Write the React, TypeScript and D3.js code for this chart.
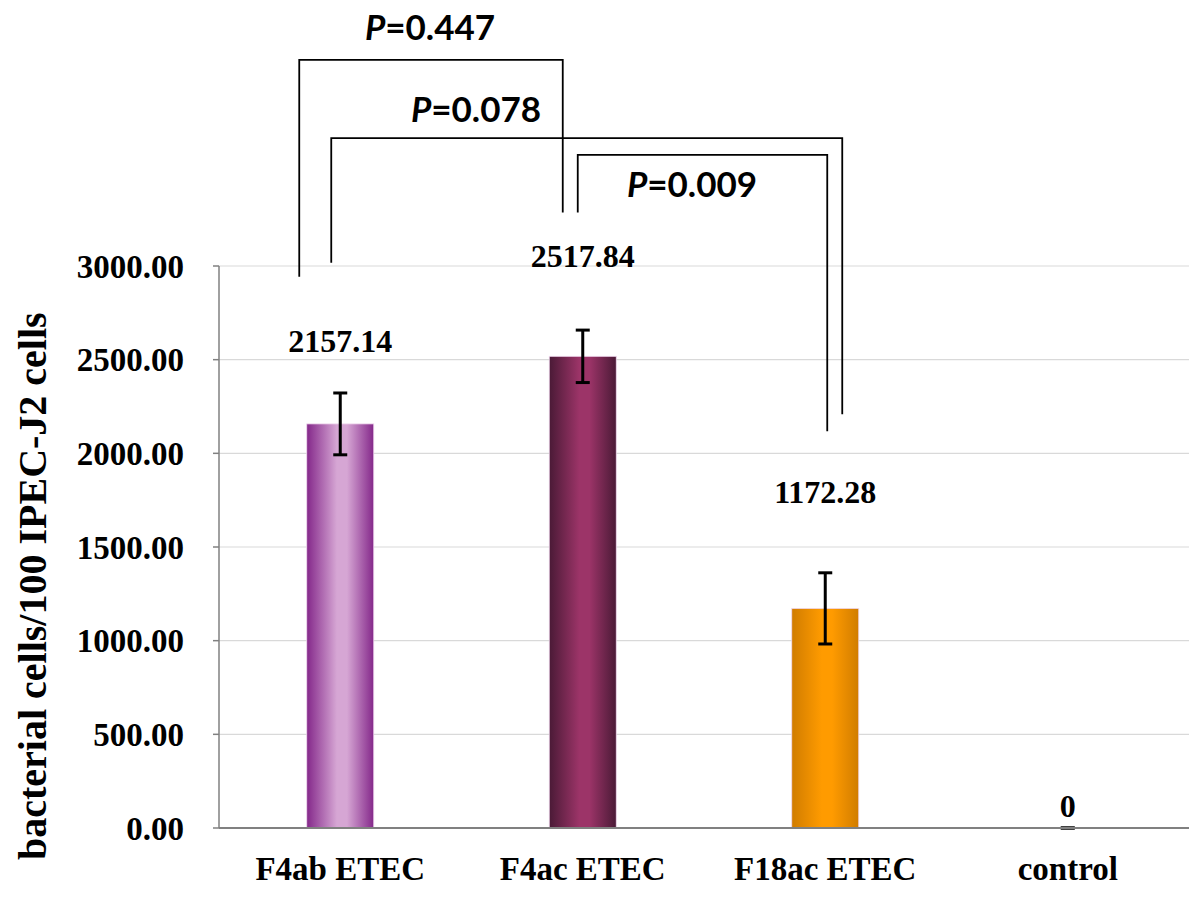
import React from "react";
import * as d3 from "d3";

const categories = ["F4ab ETEC", "F4ac ETEC", "F18ac ETEC", "control"];
const means = [2157.14, 2517.84, 1172.28, 0];
const meanLabels = ["2157.14", "2517.84", "1172.28", "0"];
const errors = [165, 140, 190, 0];
const labelAnchors = [2541, 2995, 1735, 59];
const yTicks = [0, 500, 1000, 1500, 2000, 2500, 3000];
const yTitle = "bacterial cells/100 IPEC-J2 cells";

const gradients = [
  { id: "g0", edge: "#84288a", mid: "#d6a6d4" },
  { id: "g1", edge: "#4a1a36", mid: "#9c3468" },
  { id: "g2", edge: "#d07c00", mid: "#ff9b00" },
  { id: "g3", edge: "#d07c00", mid: "#ff9b00" },
];

const bracketLabels = ["0.447", "0.078", "0.009"];
const bracketPairs = [
  [0, 1],
  [0, 2],
  [1, 2],
];
const bracketOffsets = [
  [-41, -20],
  [-9, 17],
  [-5, 2],
];
const bracketLevels = [4100, 3683, 3593];
const bracketLeftEnds = [2943, 3018, 3285];
const bracketRightEnds = [3285, 2208, 2118];
const bracketLabelPos = [
  [430, 40],
  [476, 122],
  [692, 197],
];

export default function App() {
  const W = 1200;
  const H = 904;
  const left = 219;
  const right = 1189;
  const x = d3.scaleBand<string>().domain(categories).range([left, right]);
  const y = d3.scaleLinear().domain([0, 3000]).range([828, 266]);
  const barW = 67;
  const cx = (i: number) => (x(categories[i]) as number) + x.bandwidth() / 2;
  const serif = "'Liberation Serif', 'Times New Roman', serif";
  const sans = "Lato, 'Open Sans', sans-serif";

  return (
    <svg
      width={W}
      height={H}
      style={{ position: "absolute", left: 0, top: 0, background: "#fff" }}
    >
      <defs>
        {gradients.map((g) => (
          <linearGradient key={g.id} id={g.id} x1="0" x2="1" y1="0" y2="0">
            <stop offset="0" stopColor={g.edge} />
            <stop offset="0.45" stopColor={g.mid} />
            <stop offset="0.6" stopColor={g.mid} />
            <stop offset="1" stopColor={g.edge} />
          </linearGradient>
        ))}
      </defs>
      {yTicks.slice(1).map((t) => (
        <line
          key={"g" + t}
          x1={left}
          x2={right}
          y1={y(t)}
          y2={y(t)}
          stroke="#d9d9d9"
          strokeWidth={1.2}
        />
      ))}
      <line x1={left} x2={left} y1={y(3000)} y2={y(0)} stroke="#808080" strokeWidth={1.5} />
      {yTicks.map((t) => (
        <g key={"t" + t}>
          <line x1={left - 6} x2={left} y1={y(t)} y2={y(t)} stroke="#808080" strokeWidth={1.5} />
          <text
            x={184}
            y={y(t)}
            dy="0.35em"
            textAnchor="end"
            fontFamily={serif}
            fontWeight="bold"
            fontSize={33}
            fill="#000"
          >
            {t.toFixed(2)}
          </text>
        </g>
      ))}
      {means.map((v, i) => (
        <g key={"b" + i}>
          {v > 0 && (
            <rect
              x={cx(i) - barW / 2}
              y={y(v)}
              width={barW}
              height={y(0) - y(v)}
              fill={`url(#${gradients[i].id})`}
              stroke="#f0d8ee"
              strokeWidth={0.8}
            />
          )}
          <line
            x1={cx(i)}
            x2={cx(i)}
            y1={y(v + errors[i])}
            y2={y(Math.max(0, v - errors[i]))}
            stroke="#000"
            strokeWidth={3}
          />
          <line
            x1={cx(i) - 7}
            x2={cx(i) + 7}
            y1={y(v + errors[i])}
            y2={y(v + errors[i])}
            stroke="#000"
            strokeWidth={3}
          />
          <line
            x1={cx(i) - 7}
            x2={cx(i) + 7}
            y1={y(Math.max(0, v - errors[i]))}
            y2={y(Math.max(0, v - errors[i]))}
            stroke="#000"
            strokeWidth={3}
          />
          <text
            x={cx(i)}
            y={y(labelAnchors[i])}
            textAnchor="middle"
            fontFamily={serif}
            fontWeight="bold"
            fontSize={32}
            fill="#000"
          >
            {meanLabels[i]}
          </text>
        </g>
      ))}
      <line x1={left} x2={right} y1={y(0)} y2={y(0)} stroke="#808080" strokeWidth={2} />
      {categories.map((c, i) => (
        <text
          key={"x" + c}
          x={cx(i)}
          y={880}
          textAnchor="middle"
          fontFamily={serif}
          fontWeight="bold"
          fontSize={33}
          fill="#000"
        >
          {c}
        </text>
      ))}
      <text
        transform="translate(46, 860) rotate(-90)"
        textAnchor="start"
        fontFamily={serif}
        fontWeight="bold"
        fontSize={40}
        fill="#000"
      >
        {yTitle}
      </text>
      {bracketPairs.map((p, k) => {
        const xl = cx(p[0]) + bracketOffsets[k][0];
        const xr = cx(p[1]) + bracketOffsets[k][1];
        const yt = y(bracketLevels[k]);
        const path = d3.path();
        path.moveTo(xl, y(bracketLeftEnds[k]));
        path.lineTo(xl, yt);
        path.lineTo(xr, yt);
        path.lineTo(xr, y(bracketRightEnds[k]));
        return (
          <g key={"br" + k}>
            <path d={path.toString()} fill="none" stroke="#000" strokeWidth={1.8} />
            <text
              x={bracketLabelPos[k][0]}
              y={bracketLabelPos[k][1]}
              textAnchor="middle"
              fontFamily={sans}
              fontWeight="bold"
              fontSize={35}
              fill="#000"
            >
              <tspan fontStyle="italic">P</tspan>
              {"=" + bracketLabels[k]}
            </text>
          </g>
        );
      })}
    </svg>
  );
}
